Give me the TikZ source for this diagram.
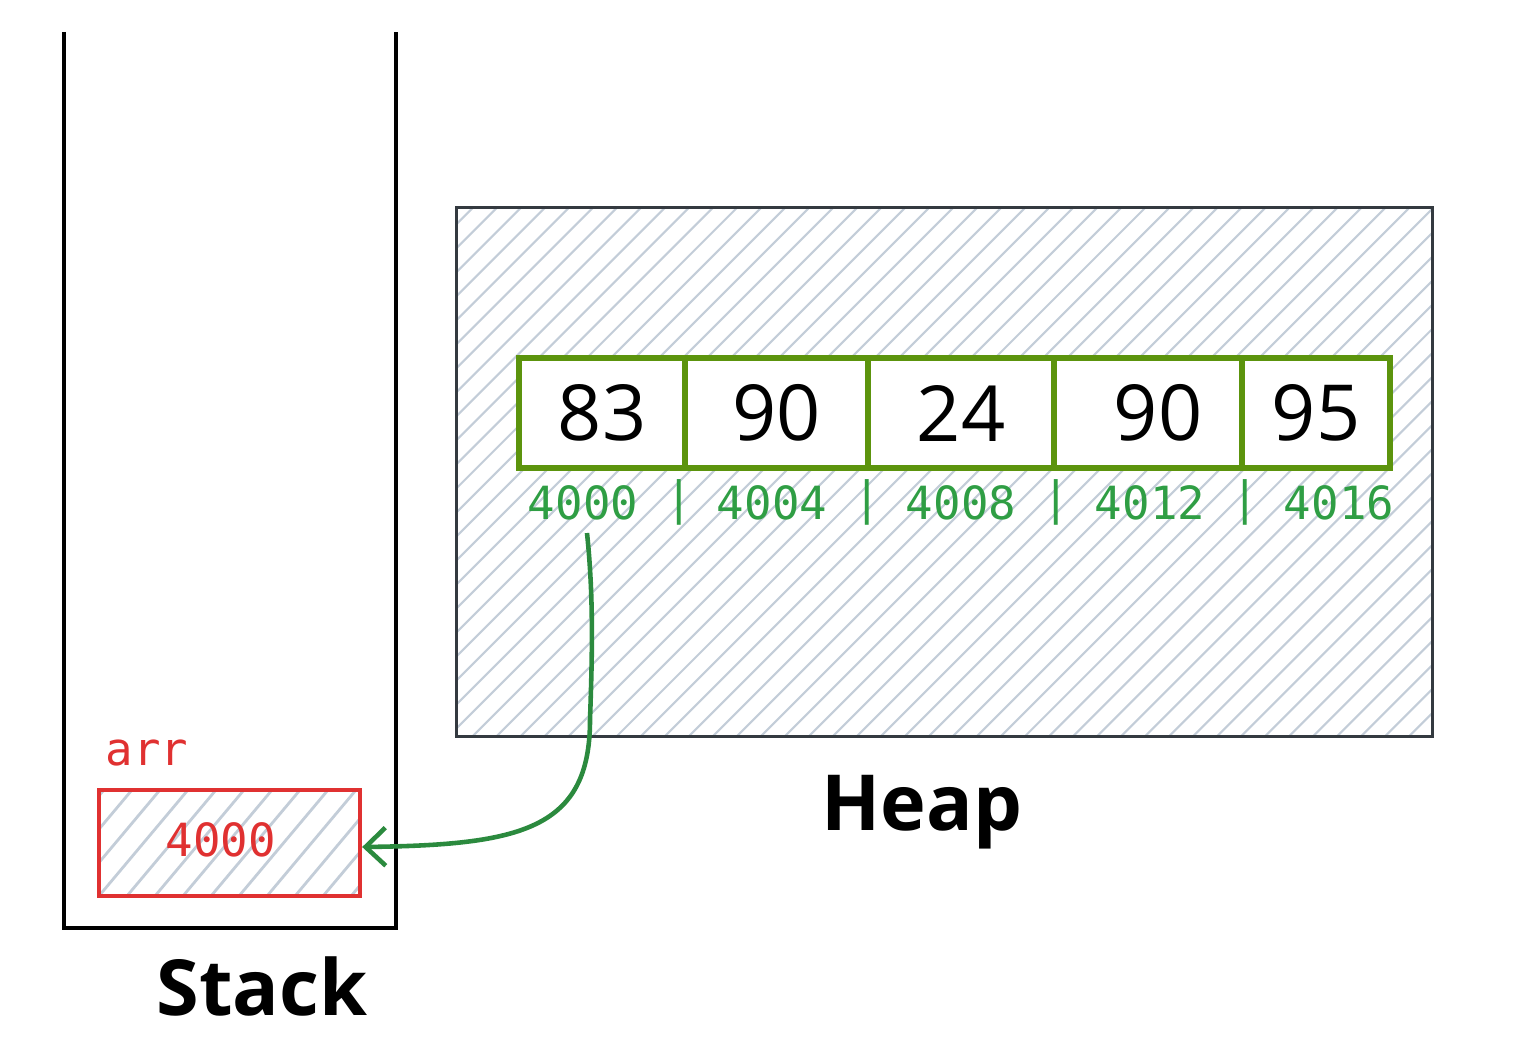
\documentclass[tikz,border=0pt]{standalone}
\usepackage{fontspec}
\setmainfont{Open Sans}
\newfontfamily\codefont{DejaVu Sans Mono}
\usetikzlibrary{arrows.meta}
\definecolor{arrgreen}{HTML}{5C940D}
\definecolor{addrgreen}{HTML}{2F9E44}
\definecolor{ptrgreen}{HTML}{2B8A3E}
\definecolor{redc}{HTML}{E03131}
\definecolor{heapgray}{HTML}{343A40}
\definecolor{hatchc}{HTML}{C3CDD8}
\begin{document}
\begin{tikzpicture}[x=0.01cm,y=-0.01cm,
  wall/.style={line width=0.9pt, black},
  hatchline/.style={hatchc, line width=0.6pt},
  heaphatch/.style={path picture={
    \foreach \s in {0,0.24,...,15.6}
      \draw[hatchline] ([xshift={(\s-5.6)*1cm}]path picture bounding box.south west) -- ++(45:8cm);}},
  boxhatch/.style={path picture={
    \foreach \s in {0,0.28,...,4.2}
      \draw[hatchline, line width=0.8pt] ([xshift={(\s-1.4)*1cm}]path picture bounding box.south west) -- ++(50:3cm);}},
  cell/.style={draw=arrgreen, fill=white, line width=1.5pt, minimum height=1.1cm, inner sep=0pt,
    font=\fontsize{22}{26}\selectfont},
  addr/.style={text=addrgreen, font=\codefont\fontsize{13}{15}\selectfont, inner sep=0pt},
  redtext/.style={text=redc, font=\codefont\fontsize{13}{15}\selectfont, inner sep=0pt},
  handlabel/.style={font=\bfseries\fontsize{22}{26}\selectfont, inner sep=0pt},
  ptr/.style={ptrgreen, line width=1.3pt, -{Straight Barb[length=0.2cm, width=0.38cm, line width=1.3pt]}}
]
\useasboundingbox (0,0) rectangle (1531,1043);

% Stack
\coordinate (stl) at (64,32);
\coordinate (sbl) at (64,928);
\coordinate (sbr) at (396,928);
\coordinate (str) at (396,32);
\draw[wall] (stl) -- (sbl) -- (sbr) -- (str);
\node[handlabel, anchor=base] (stacklbl) at (262,1015) {Stack};

% Heap
\node[draw=heapgray, line width=0.9pt, heaphatch, minimum width=9.75cm, minimum height=5.28cm, inner sep=0pt] (heap) at (944.5,472) {};
\node[handlabel, anchor=base] (heaplbl) at (922,830) {Heap};

% array cells
\node[cell, minimum width=1.66cm] (c1) at (602,413) {83};
\node[cell, minimum width=1.83cm] (c2) at (776.5,413) {90};
\node[cell, minimum width=1.86cm] (c3) at (961,413) {24};
\node[cell, minimum width=1.88cm] (c4) at (1148,413) {\hspace*{0.2cm}90};
\node[cell, minimum width=1.48cm] (c5) at (1316,413) {95};

% addresses
\node[addr] (a1) at (583,503) {4000};
\node[addr] (a2) at (772,503) {4004};
\node[addr] (a3) at (961,503) {4008};
\node[addr] (a4) at (1150,503) {4012};
\node[addr] (a5) at (1339,503) {4016};
\node[addr] (s1) at (679,502) {|};
\node[addr] (s2) at (867,502) {|};
\node[addr] (s3) at (1056,502) {|};
\node[addr] (s4) at (1245,502) {|};

% stack variable
\node[redtext] (arrlbl) at (147,753) {arr};
\node[draw=redc, line width=1.2pt, boxhatch, minimum width=2.61cm, minimum height=1.06cm, inner sep=0pt] (box) at (229.5,843) {};
\node[redtext] (boxval) at (221,840) {4000};

% pointer
\draw[ptr] ([xshift=0.04cm,yshift=-0.12cm]a1.south) .. controls (594,600) and (592,660) .. (590,720)
  .. controls (590,830) and (520,845) .. ([yshift=-0.04cm]box.east);
\end{tikzpicture}
\end{document}
